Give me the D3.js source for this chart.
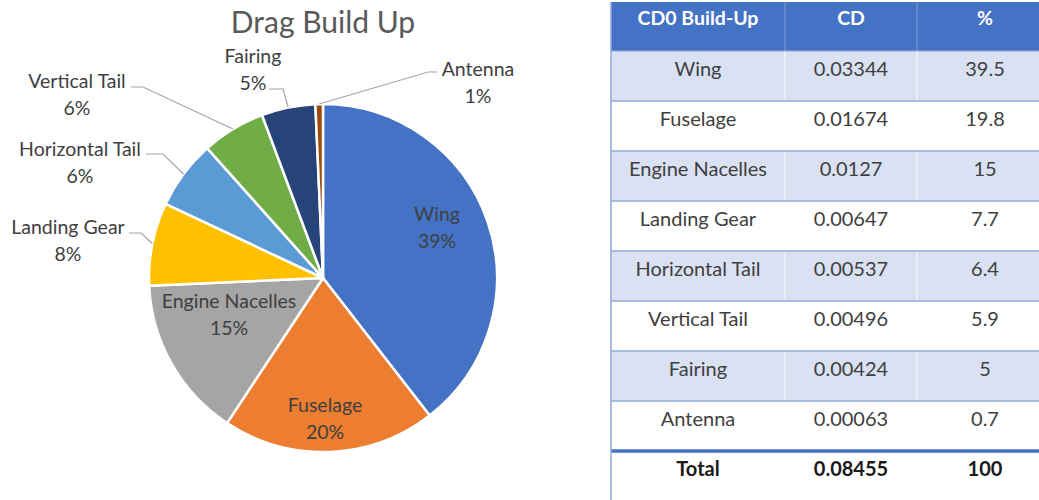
<!DOCTYPE html>
<html>
<head>
<meta charset="utf-8">
<script src="https://cdn.jsdelivr.net/npm/d3@7"></script>
<style>
  html, body { margin: 0; padding: 0; background: #fff; }
  svg { display: block; }
</style>
</head>
<body>
<svg id="chart" width="1039" height="500"></svg>
<script>
// Zero-lift drag breakdown by component
const components = ["Wing", "Fuselage", "Engine Nacelles", "Landing Gear",
  "Horizontal Tail", "Vertical Tail", "Fairing", "Antenna"];
const cdValues = ["0.03344", "0.01674", "0.0127", "0.00647", "0.00537", "0.00496", "0.00424", "0.00063"];
const pctValues = [39.5, 19.8, 15, 7.7, 6.4, 5.9, 5, 0.7];
const pieLabels = ["39%", "20%", "15%", "8%", "6%", "6%", "5%", "1%"];
const totalRow = ["Total", "0.08455", "100"];
const tableHeader = ["CD0 Build-Up", "CD", "%"];
const title = "Drag Build Up";

const colors = ["#4472C4", "#ED7D31", "#A5A5A5", "#FFC000", "#5B9BD5", "#70AD47", "#264478", "#9E480E"];

const svg = d3.select("#chart");
const FONT = "Lato, 'Open Sans', sans-serif";

// ---------- Pie ----------
const cx = 323, cy = 278, R = 174;

const pie = d3.pie().sort(null).value(d => d.pct);
const arc = d3.arc().innerRadius(0).outerRadius(R);
const data = components.map((c, i) => ({ name: c, pct: pctValues[i], label: pieLabels[i], color: colors[i] }));
const arcs = pie(data);

const g = svg.append("g").attr("transform", `translate(${cx},${cy})`);
g.selectAll("path.slice")
  .data(arcs)
  .join("path")
  .attr("class", "slice")
  .attr("d", arc)
  .attr("fill", d => d.data.color)
  .attr("stroke", "#fff")
  .attr("stroke-width", 2.5)
  .attr("stroke-linejoin", "round");

svg.append("text")
  .attr("x", 323).attr("y", 33)
  .attr("text-anchor", "middle")
  .attr("font-family", FONT)
  .attr("font-size", 30)
  .attr("fill", "#595959")
  .text(title);

// Label placement: text centre, plus elbow for callouts (absolute coords)
const labelLayout = {
  "Wing":            { x: 437, y: 213 },
  "Fuselage":        { x: 325, y: 404 },
  "Engine Nacelles": { x: 229, y: 300 },
  "Landing Gear":    { x: 68,  y: 226, elbow: [[129, 233], [141, 233]] },
  "Horizontal Tail": { x: 80,  y: 148, elbow: [[146, 154], [163, 154]] },
  "Vertical Tail":   { x: 77,  y: 80,  elbow: [[131, 87], [143, 87]] },
  "Fairing":         { x: 253, y: 55,  elbow: [[269, 89], [283, 89]] },
  "Antenna":         { x: 478, y: 68,  elbow: [[437, 72], [428, 72]] }
};

const lineGap = 27;
arcs.forEach(a => {
  const L = labelLayout[a.data.name];
  if (L.elbow) {
    const mid = (a.startAngle + a.endAngle) / 2;
    const px = cx + R * Math.sin(mid), py = cy - R * Math.cos(mid);
    const pts = [...L.elbow, [px, py]];
    svg.append("path")
      .attr("d", d3.line()(pts))
      .attr("fill", "none")
      .attr("stroke", "#A6A6A6")
      .attr("stroke-width", 1.2);
  }
  const t = svg.append("text")
    .attr("text-anchor", "middle")
    .attr("font-family", FONT)
    .attr("font-size", 19.5)
    .attr("fill", "#404040")
    .attr("dominant-baseline", "central");
  t.append("tspan").attr("x", L.x).attr("y", L.y).text(a.data.name);
  t.append("tspan").attr("x", L.x).attr("y", L.y + lineGap).text(a.data.label);
});

// ---------- Table ----------
const tx = [611, 785, 917, 1053];
const headerTop = 2, headerH = 49, rowH = 50;
const tg = svg.append("g");

// header
tg.append("rect").attr("x", tx[0]).attr("y", headerTop)
  .attr("width", tx[3] - tx[0]).attr("height", headerH).attr("fill", "#4472C4");
[1, 2].forEach(i => tg.append("line")
  .attr("x1", tx[i]).attr("x2", tx[i]).attr("y1", headerTop).attr("y2", headerTop + headerH)
  .attr("stroke", "#7F9FD8").attr("stroke-width", 1));
tableHeader.forEach((h, i) => tg.append("text")
  .attr("x", (tx[i] + tx[i + 1]) / 2).attr("y", headerTop + 15)
  .attr("text-anchor", "middle").attr("dominant-baseline", "central")
  .attr("font-family", FONT).attr("font-size", 19.5).attr("font-weight", "bold")
  .attr("fill", "#fff").text(h));

const rowsTop = headerTop + headerH;
components.forEach((c, r) => {
  const y0 = rowsTop + r * rowH;
  const shaded = r % 2 === 0;
  tg.append("rect").attr("x", tx[0]).attr("y", y0)
    .attr("width", tx[3] - tx[0]).attr("height", rowH)
    .attr("fill", shaded ? "#D9E1F2" : "#fff");
  if (shaded) {
    [1, 2].forEach(i => tg.append("line")
      .attr("x1", tx[i]).attr("x2", tx[i]).attr("y1", y0).attr("y2", y0 + rowH)
      .attr("stroke", "#EEF2FA").attr("stroke-width", 1.5));
  }
  [c, cdValues[r], String(pctValues[r])].forEach((v, i) => tg.append("text")
    .attr("x", (tx[i] + tx[i + 1]) / 2).attr("y", y0 + 17)
    .attr("text-anchor", "middle").attr("dominant-baseline", "central")
    .attr("font-family", FONT).attr("font-size", 20)
    .attr("fill", "#404040").text(v));
});

// row separators
d3.range(1, components.length).forEach(r => tg.append("line")
  .attr("x1", tx[0]).attr("x2", tx[3])
  .attr("y1", rowsTop + r * rowH).attr("y2", rowsTop + r * rowH)
  .attr("stroke", "#8EA9DB").attr("stroke-width", 1.5));
tg.append("line")
  .attr("x1", tx[0]).attr("x2", tx[3])
  .attr("y1", rowsTop).attr("y2", rowsTop)
  .attr("stroke", "#8EA9DB").attr("stroke-width", 1);

// total row
const totalTop = rowsTop + components.length * rowH;
tg.append("line")
  .attr("x1", tx[0]).attr("x2", tx[3])
  .attr("y1", totalTop).attr("y2", totalTop)
  .attr("stroke", "#4472C4").attr("stroke-width", 3.5);
totalRow.forEach((v, i) => tg.append("text")
  .attr("x", (tx[i] + tx[i + 1]) / 2).attr("y", totalTop + 17)
  .attr("text-anchor", "middle").attr("dominant-baseline", "central")
  .attr("font-family", FONT).attr("font-size", 20).attr("font-weight", "bold")
  .attr("fill", "#1a1a1a").text(v));

// left border
tg.append("line")
  .attr("x1", tx[0]).attr("x2", tx[0]).attr("y1", headerTop).attr("y2", 500)
  .attr("stroke", "#8EA9DB").attr("stroke-width", 1.5);
</script>
</body>
</html>
